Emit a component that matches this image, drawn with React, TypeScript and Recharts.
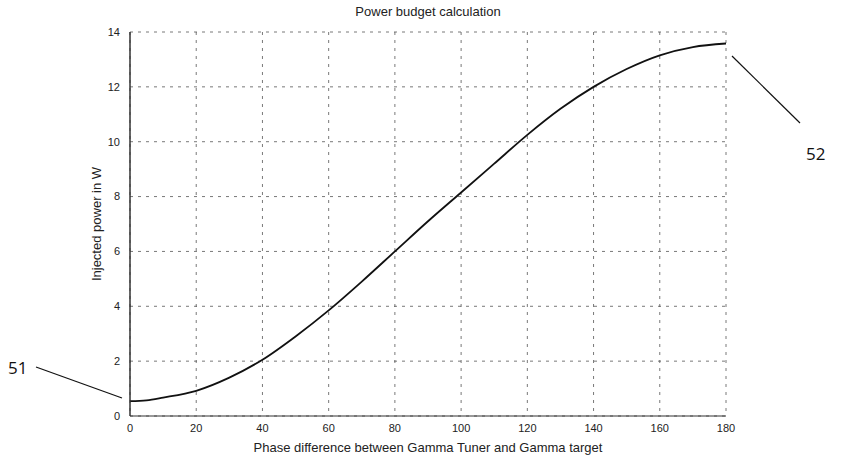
import React from "react";
import {
  LineChart,
  Line,
  XAxis,
  YAxis,
  CartesianGrid,
} from "recharts";

const phase = [0, 5, 10, 20, 30, 40, 50, 60, 70, 80, 90, 100, 110, 120, 130, 140, 150, 160, 170, 180];
const power = [0.54, 0.57, 0.67, 0.92, 1.4, 2.05, 2.9, 3.85, 4.9, 6.0, 7.1, 8.15, 9.2, 10.25, 11.2, 12.0, 12.65, 13.15, 13.45, 13.58];
const xTicks = [0, 20, 40, 60, 80, 100, 120, 140, 160, 180];
const yTicks = [0, 2, 4, 6, 8, 10, 12, 14];

const data = phase.map((p, i) => ({ phase: p, power: power[i] }));

const font = "'Liberation Sans', Arial, sans-serif";

export default function App() {
  return (
    <div style={{ position: "absolute", left: 0, top: 0, width: 841, height: 459, background: "#fff" }}>
      <LineChart
        width={841}
        height={459}
        data={data}
        margin={{ top: 32, right: 115, left: 70, bottom: 0 }}
      >
        <CartesianGrid stroke="#555" strokeDasharray="3 5" strokeWidth={0.8} />
        <XAxis
          dataKey="phase"
          type="number"
          domain={[0, 180]}
          ticks={xTicks}
          height={43}
          tickLine={false}
          axisLine={{ stroke: "#333" }}
          tick={{ fill: "#222", fontSize: 11, fontFamily: font }}
          tickMargin={2}
          label={{ value: "Phase difference between Gamma Tuner and Gamma target", position: "insideBottom", offset: 7, fill: "#222", fontSize: 13, fontFamily: font }}
        />
        <XAxis xAxisId="top" orientation="top" dataKey="phase" type="number" domain={[0, 180]} ticks={xTicks} tick={false} tickLine={false} height={0} axisLine={{ stroke: "#333" }} />
        <YAxis
          type="number"
          domain={[0, 14]}
          ticks={yTicks}
          width={60}
          tickLine={false}
          axisLine={{ stroke: "#333", strokeWidth: 1.5 }}
          tick={{ fill: "#222", fontSize: 11, fontFamily: font }}
          tickMargin={4}
          label={{ value: "Injected power in W", angle: -90, position: "insideRight", offset: 34, fill: "#222", fontSize: 13, fontFamily: font, style: { textAnchor: "middle" } }}
        />
        <YAxis yAxisId="right" orientation="right" type="number" domain={[0, 14]} ticks={yTicks} tick={false} tickLine={false} width={0} axisLine={{ stroke: "#333" }} />
        <Line
          type="monotone"
          dataKey="power"
          stroke="#111"
          strokeWidth={1.8}
          dot={false}
          isAnimationActive={false}
        />
        <text x={428} y={16} textAnchor="middle" fontSize={13} fontFamily={font} fill="#222">
          Power budget calculation
        </text>
      </LineChart>
      <svg width={841} height={459} style={{ position: "absolute", left: 0, top: 0, pointerEvents: "none" }}>
        <line x1={36} y1={367} x2={122} y2={398} stroke="#111" strokeWidth={1.2} />
        <line x1={732} y1={56} x2={800} y2={123} stroke="#111" strokeWidth={1.2} />
        <text x={8} y={374} fontSize={17} fontFamily="'Open Sans', sans-serif" fill="#111">51</text>
        <text x={806} y={160} fontSize={17} fontFamily="'Open Sans', sans-serif" fill="#111">52</text>
      </svg>
    </div>
  );
}
